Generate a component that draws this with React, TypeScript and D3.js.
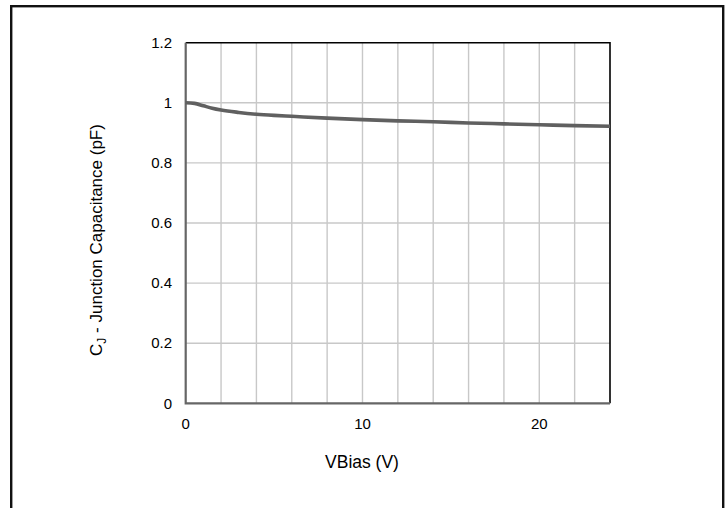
import * as d3 from 'd3'

// VBias (V) vs junction capacitance (pF)
const vBias = [0, 0.5, 1, 1.5, 2, 3, 4, 5, 6, 8, 10, 12, 14, 16, 18, 20, 22, 24]
const capacitance = [1.0, 0.998, 0.99, 0.982, 0.976, 0.968, 0.962, 0.958, 0.955, 0.949, 0.944, 0.94, 0.937, 0.933, 0.93, 0.927, 0.924, 0.922]
const xTicks = [0, 10, 20]
const yTicks = [0, 0.2, 0.4, 0.6, 0.8, 1, 1.2]
const xGrid = [2, 4, 6, 8, 10, 12, 14, 16, 18, 20, 22]

const App = () => {
    const svgWidth = 728
    const svgHeight = 508
    const plot = { left: 185.7, top: 42.7, right: 610, bottom: 403.3 }
    const font = 'Arial, "Liberation Sans", sans-serif'

    const x = d3.scaleLinear().domain([0, 24]).range([plot.left, plot.right])
    const y = d3.scaleLinear().domain([0, 1.2]).range([plot.bottom, plot.top])

    const data = vBias.map((v, i) => ({ v, c: capacitance[i] }))
    const line = d3
        .line<{ v: number, c: number }>()
        .x(d => x(d.v))
        .y(d => y(d.c))
        .curve(d3.curveMonotoneX)

    return (
        <svg
            width={svgWidth}
            height={svgHeight}
            style={{ position: 'fixed', left: 0, top: 0, background: '#fff' }}
        >
            <rect x={11.2} y={6.2} width={712} height={540} fill='none' stroke='#111' strokeWidth={2.4} />

            {/* grid */}
            {xGrid.map(v => (
                <line key={'gx' + v} x1={x(v)} x2={x(v)} y1={plot.top} y2={plot.bottom} stroke='#c8c8c8' strokeWidth={1.4} />
            ))}
            {yTicks.slice(1, -1).map(v => (
                <line key={'gy' + v} x1={plot.left} x2={plot.right} y1={y(v)} y2={y(v)} stroke='#c8c8c8' strokeWidth={1.4} />
            ))}

            {/* frame */}
            <path d={`M ${plot.left} ${plot.top} H ${plot.right} V ${plot.bottom}`} fill='none' stroke='#000' strokeWidth={1.6} />
            <path d={`M ${plot.left} ${plot.top} V ${plot.bottom} H ${plot.right}`} fill='none' stroke='#666' strokeWidth={2.2} />

            {/* curve */}
            <path d={line(data) ?? ''} fill='none' stroke='#606060' strokeWidth={3.6} strokeLinecap='butt' />

            {/* tick labels */}
            {yTicks.map(v => (
                <text key={'ty' + v} x={172} y={y(v)} dy='0.35em' textAnchor='end' fontSize={15} fontFamily={font} fill='#000'>
                    {v}
                </text>
            ))}
            {xTicks.map(v => (
                <text key={'tx' + v} x={x(v)} y={429} textAnchor='middle' fontSize={15} fontFamily={font} fill='#000'>
                    {v}
                </text>
            ))}

            {/* axis titles */}
            <text x={362} y={468} textAnchor='middle' fontSize={17.5} fontFamily={font} fill='#000'>
                VBias (V)
            </text>
            <text
                transform={`translate(102, 240) rotate(-90)`}
                textAnchor='middle'
                fontSize={17}
                fontFamily={font}
                fill='#000'
            >
                C<tspan fontSize={12} dy={4}>J</tspan><tspan dy={-4}> - Junction Capacitance (pF)</tspan>
            </text>
        </svg>
    )
}

export default App
